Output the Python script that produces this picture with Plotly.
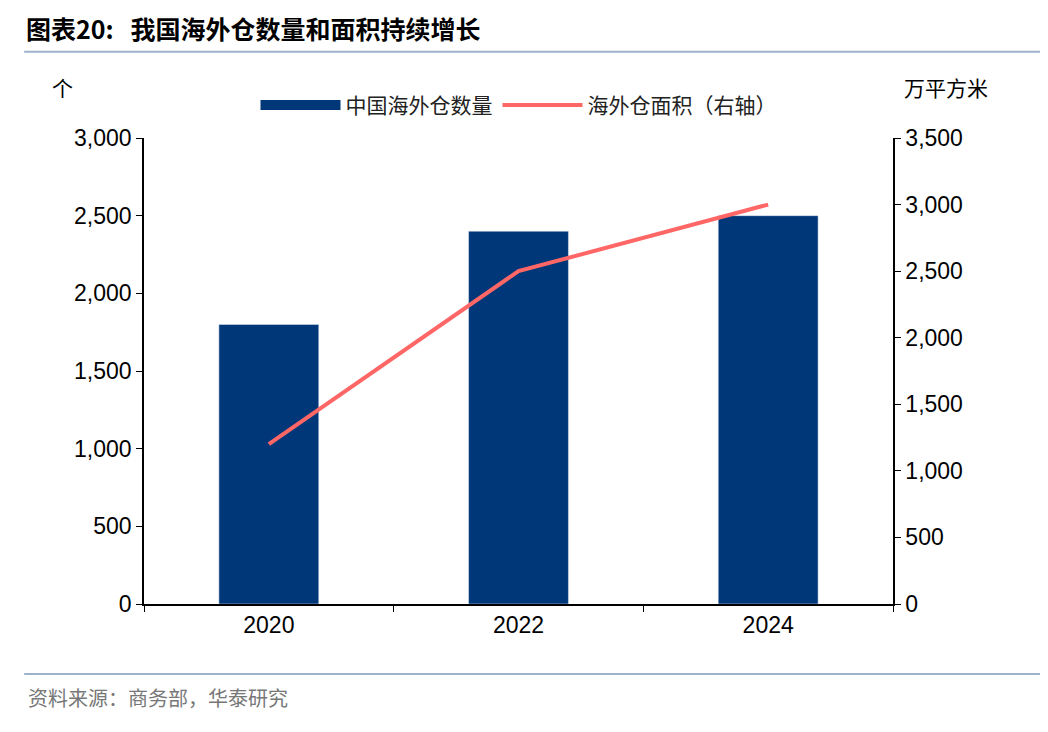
import plotly.graph_objects as go

years = ["2020", "2022", "2024"]
warehouse_count = [1800, 2400, 2500]
warehouse_area = [1200, 2500, 3000]

font_num = "Liberation Sans, Arial, sans-serif"
font_cn = "Noto Sans CJK SC, sans-serif"

fig = go.Figure()
fig.add_trace(go.Bar(
    x=years, y=warehouse_count, name="中国海外仓数量", showlegend=False,
    marker=dict(color="#003778"), width=0.4,
))
# legend proxy: wide navy rectangle like the reference
fig.add_trace(go.Scatter(
    x=[None], y=[None], name="中国海外仓数量", mode="lines",
    line=dict(color="#003778", width=14),
))
fig.add_trace(go.Scatter(
    x=years, y=warehouse_area, name="海外仓面积（右轴）", yaxis="y2",
    mode="lines", line=dict(color="#FF6666", width=4),
))

fig.update_layout(
    width=1048, height=732,
    margin=dict(l=136, r=163, t=130, b=136),
    paper_bgcolor="white", plot_bgcolor="white",
    font=dict(family=font_num, size=23, color="black"),
    showlegend=True,
    legend=dict(orientation="h", x=0.5, xanchor="center", y=1.07, yanchor="middle",
                font=dict(family=font_cn, size=21, color="#222222"), itemwidth=80),
    xaxis=dict(type="category", tickson="boundaries", ticks="outside", ticklen=6,
               showline=True, linecolor="black", linewidth=1.5, tickcolor="black",
               showgrid=False),
    yaxis=dict(range=[0, 3000], dtick=500, tickformat=",", ticks="outside", ticklen=6,
               showline=True, linecolor="black", linewidth=1.5, tickcolor="black",
               showgrid=False, zeroline=False),
    yaxis2=dict(range=[0, 3500], dtick=500, tickformat=",", ticks="outside", ticklen=6,
                overlaying="y", side="right",
                showline=True, linecolor="black", linewidth=1.5, tickcolor="black",
                showgrid=False, zeroline=False),
    bargap=0.6,
)

fig.add_annotation(text="<b>图表20:</b>   <b>我国海外仓数量和面积持续增长</b>", xref="paper", yref="paper",
                   x=-0.16, y=1.235, xanchor="left", yanchor="middle", showarrow=False,
                   font=dict(family=font_cn, size=25))
fig.add_annotation(text="个", xref="paper", yref="paper", x=-0.125, y=1.11,
                   xanchor="left", yanchor="middle", showarrow=False,
                   font=dict(family=font_cn, size=21))
fig.add_annotation(text="万平方米", xref="paper", yref="paper", x=1.13, y=1.11,
                   xanchor="right", yanchor="middle", showarrow=False,
                   font=dict(family=font_cn, size=21))
fig.add_annotation(text="资料来源：商务部，华泰研究", xref="paper", yref="paper", x=-0.157, y=-0.2,
                   xanchor="left", yanchor="middle", showarrow=False,
                   font=dict(family=font_cn, size=20, color="#777777"))

fig.add_shape(type="line", xref="paper", yref="paper", x0=-0.16, x1=1.2, y0=1.185, y1=1.185,
              line=dict(color="#9DB3CC", width=2))
fig.add_shape(type="line", xref="paper", yref="paper", x0=-0.16, x1=1.2, y0=-0.15, y1=-0.15,
              line=dict(color="#9DB3CC", width=2))

fig.write_html("out.html")
